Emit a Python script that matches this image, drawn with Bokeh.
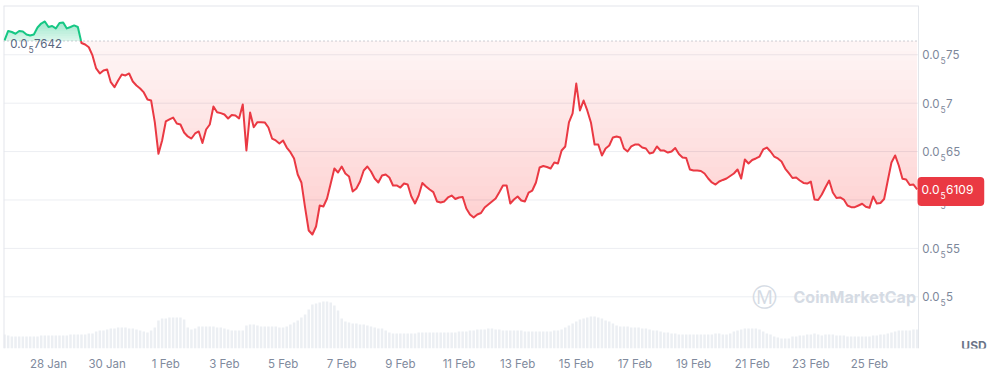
import numpy as np
import pandas as pd
from bokeh.plotting import figure
from bokeh.models import FixedTicker, Range1d, Label
from bokeh.core.properties import value
from bokeh.embed import file_html
from bokeh.resources import INLINE

# ---------------- data ----------------
START = "2024-01-26 12:00"
STEP_HOURS = 3
AXIS_ORIGIN = "2024-01-28"

# price in millionths of a USD (0.0_5 7642 = 7.642e-6)
price = [
    7.648, 7.746, 7.735, 7.717, 7.746, 7.741, 7.710, 7.699, 7.710, 7.782,
    7.823, 7.844, 7.787, 7.797, 7.772, 7.828, 7.834, 7.772, 7.787, 7.803,
    7.787, 7.622, 7.606, 7.578, 7.493, 7.359, 7.307, 7.338, 7.348, 7.217,
    7.165, 7.234, 7.296, 7.286, 7.307, 7.224, 7.183, 7.152, 7.111, 7.038,
    7.028, 6.804, 6.477, 6.615, 6.811, 6.832, 6.852, 6.790, 6.780, 6.697,
    6.656, 6.635, 6.687, 6.708, 6.589, 6.728, 6.780, 6.966, 6.907, 6.897,
    6.883, 6.842, 6.878, 6.873, 6.842, 6.987, 6.511, 6.904, 6.752, 6.804,
    6.804, 6.801, 6.749, 6.635, 6.615, 6.584, 6.615, 6.542, 6.494, 6.429,
    6.263, 6.181, 5.923, 5.685, 5.644, 5.726, 5.943, 5.933, 6.015, 6.170,
    6.325, 6.284, 6.346, 6.274, 6.243, 6.088, 6.119, 6.191, 6.305, 6.346,
    6.294, 6.222, 6.181, 6.253, 6.263, 6.232, 6.150, 6.150, 6.129, 6.170,
    6.160, 6.036, 5.964, 6.046, 6.176, 6.139, 6.108, 6.082, 5.985, 5.974,
    5.985, 6.026, 6.046, 6.010, 6.026, 6.031, 5.912, 5.850, 5.819, 5.850,
    5.866, 5.923, 5.954, 5.985, 6.015, 6.080, 6.150, 6.150, 5.964, 6.005,
    6.036, 5.995, 5.985, 6.077, 6.098, 6.181, 6.336, 6.351, 6.341, 6.325,
    6.387, 6.377, 6.511, 6.553, 6.801, 6.894, 7.203, 6.925, 7.028, 6.925,
    6.801, 6.573, 6.573, 6.460, 6.532, 6.563, 6.646, 6.656, 6.646, 6.532,
    6.501, 6.553, 6.573, 6.573, 6.542, 6.532, 6.480, 6.490, 6.553, 6.511,
    6.511, 6.490, 6.501, 6.537, 6.475, 6.439, 6.434, 6.315, 6.305, 6.305,
    6.300, 6.274, 6.222, 6.181, 6.160, 6.191, 6.207, 6.222, 6.248, 6.274,
    6.315, 6.222, 6.418, 6.377, 6.413, 6.429, 6.449, 6.522, 6.542, 6.501,
    6.449, 6.429, 6.398, 6.325, 6.277, 6.227, 6.232, 6.201, 6.176, 6.170,
    6.191, 6.005, 6.000, 6.057, 6.132, 6.201, 6.077, 6.021, 6.026, 6.005,
    5.943, 5.926, 5.926, 5.943, 5.961, 5.930, 5.919, 6.036, 5.964, 5.969,
    6.010, 6.201, 6.387, 6.460, 6.356, 6.219, 6.212, 6.155, 6.160, 6.109,
]

# trading volume (millions USD, per 3 hours)
volume = [
    14, 13, 12, 12, 12, 12, 12, 12, 12, 12, 13, 13, 13, 13, 13, 13, 13, 13, 14, 14,
    14, 14, 14, 15, 15, 17, 18, 18, 19, 20, 20, 21, 21, 21, 20, 20, 19, 18, 17, 16,
    18, 21, 28, 30, 30, 31, 31, 31, 31, 29, 21, 19, 20, 22, 22, 22, 22, 22, 21, 21,
    20, 19, 18, 18, 18, 18, 23, 24, 24, 23, 22, 22, 22, 22, 22, 21, 21, 22, 24, 26,
    28, 31, 34, 39, 44, 45, 46, 47, 47, 46, 43, 38, 30, 27, 26, 25, 25, 24, 24, 23,
    22, 21, 20, 20, 18, 16, 15, 15, 15, 15, 15, 15, 15, 16, 16, 16, 16, 16, 16, 16,
    16, 16, 16, 16, 17, 17, 17, 18, 18, 19, 19, 19, 20, 20, 19, 19, 18, 18, 18, 18,
    18, 18, 17, 17, 17, 17, 17, 17, 17, 17, 18, 18, 19, 21, 23, 25, 27, 29, 30, 31,
    32, 32, 31, 30, 28, 27, 25, 23, 22, 22, 22, 21, 21, 21, 20, 20, 19, 18, 18, 17,
    16, 16, 15, 15, 14, 14, 14, 14, 14, 14, 14, 14, 14, 14, 15, 15, 14, 14, 15, 17,
    18, 19, 20, 20, 20, 20, 19, 17, 15, 14, 12, 11, 10, 10, 10, 12, 12, 13, 13, 14,
    14, 15, 14, 13, 14, 14, 14, 13, 13, 13, 12, 12, 12, 12, 12, 12, 12, 13, 13, 14,
    14, 15, 16, 17, 18, 18, 18, 18, 19, 19,
]

reference_price = 7.642
last_price = 6.109

ytick_values = [5.0, 5.5, 6.0, 6.5, 7.0, 7.5]
ytick_lead = ["0.0"] * 6
ytick_sub = ["5"] * 6
ytick_tail = ["5", "55", "6", "65", "7", "75"]

xtick_dates = ["2024-01-28", "2024-01-30", "2024-02-01", "2024-02-03", "2024-02-05",
               "2024-02-07", "2024-02-09", "2024-02-11", "2024-02-13", "2024-02-15",
               "2024-02-17", "2024-02-19", "2024-02-21", "2024-02-23", "2024-02-25"]
xtick_labels = ["28 Jan", "30 Jan", "1 Feb", "3 Feb", "5 Feb", "7 Feb", "9 Feb", "11 Feb",
                "13 Feb", "15 Feb", "17 Feb", "19 Feb", "21 Feb", "23 Feb", "25 Feb"]

# ---------------- derived ----------------
RED = "#EA3943"
GREEN = "#16C784"
GRID = "#eceef2"
FONT = "Inter"

origin = pd.Timestamp(AXIS_ORIGIN)
times = pd.date_range(START, periods=len(price), freq=f"{STEP_HOURS}h")
t = ((times - origin) / pd.Timedelta(days=1)).to_numpy(dtype=float)
pr = np.array(price, dtype=float)
vol = np.array(volume, dtype=float)
xticks = [int(round((pd.Timestamp(d) - origin) / pd.Timedelta(days=1))) for d in xtick_dates]

# ranges: plotting area runs x_start..x_plot_end, the rest of the frame holds the price scale
x_start, x_plot_end, x_end = -1.535, 29.673, 32.503
y_bot, y_top = 4.466, 8.009
FRAME_H = 343
px = (y_top - y_bot) / FRAME_H  # one screen pixel in price units

p = figure(frame_width=998, frame_height=FRAME_H, output_backend="svg", toolbar_location=None,
           x_range=Range1d(x_start, x_end), y_range=Range1d(y_bot, y_top),
           min_border_left=3, min_border_right=0, min_border_top=5, min_border_bottom=23)
p.background_fill_color = "white"
p.border_fill_color = "white"
p.outline_line_color = None
p.grid.visible = False
p.yaxis.visible = False

p.xaxis.ticker = FixedTicker(ticks=xticks)
p.xaxis.major_label_overrides = dict(zip(xticks, xtick_labels))
p.xaxis.axis_line_color = None
p.xaxis.major_tick_line_color = None
p.xaxis.minor_tick_line_color = None
p.xaxis.major_tick_out = 0
p.xaxis.major_tick_in = 0
p.xaxis.minor_tick_out = 0
p.xaxis.major_label_standoff = 8
p.xaxis.major_label_text_font = FONT
p.xaxis.major_label_text_font_size = "11.5px"
p.xaxis.major_label_text_color = "#808a9d"

# horizontal grid lines over the plotting area
n = len(ytick_values)
p.segment(x0=[x_start] * n, x1=[x_plot_end] * n, y0=ytick_values, y1=ytick_values,
          line_color=GRID, line_width=1)

# volume
p.extra_y_ranges = {"vol": Range1d(0, FRAME_H)}
p.vbar(x=t, top=vol, bottom=0, width=0.085, y_range_name="vol",
       fill_color="#eceff3", line_color=None)

# red gradient fill between price and reference (below)
for k in range(0, 23):
    hi = reference_price - 0.1 * k
    y1 = np.minimum(pr, hi)
    y2 = np.full_like(pr, hi)
    p.varea(x=t, y1=y1, y2=y2, fill_color=RED, fill_alpha=0.05 if k == 0 else 0.012)

# green gradient fill (above)
for k in range(0, 9):
    lo = reference_price + 0.025 * k
    y1 = np.full_like(pr, lo)
    y2 = np.maximum(pr, lo)
    p.varea(x=t, y1=y1, y2=y2, fill_color=GREEN, fill_alpha=0.16 if k == 0 else 0.045)

# borders of the plotting area (left, top, right)
p.segment(x0=[x_start, x_start, x_plot_end], y0=[y_bot, y_top, y_bot],
          x1=[x_start, x_plot_end, x_plot_end], y1=[y_top, y_top, y_top],
          line_color="#e3e6eb", line_width=[2, 2, 1])

# reference dotted line
p.segment(x0=[x_start], x1=[x_plot_end], y0=[reference_price], y1=[reference_price],
          line_color="#9aa1ad", line_width=1, line_dash="1 3")

# split line at crossings
X, Y = [t[0]], [pr[0]]
for i in range(1, len(pr)):
    a, b = pr[i - 1], pr[i]
    if (a - reference_price) * (b - reference_price) < 0:
        f = (reference_price - a) / (b - a)
        X.append(t[i - 1] + f * (t[i] - t[i - 1]))
        Y.append(reference_price)
    X.append(t[i]); Y.append(b)
X = np.array(X); Y = np.array(Y)
yg = np.where(Y >= reference_price - 1e-9, Y, np.nan)
yr = np.where(Y <= reference_price + 1e-9, Y, np.nan)
p.line(X, yr, line_color=RED, line_width=2, line_join="round")
p.line(X, yg, line_color=GREEN, line_width=2, line_join="round")

# price scale labels (glyph text: 0.0 + subscript zero count + digits)
common = dict(text_baseline="middle", text_font=value(FONT))
p.text(x=[x_plot_end] * n, y=ytick_values, text=ytick_lead, x_offset=21, text_align="right",
       text_font_size=value("11.5px"), text_color="#7d879a", **common)
p.text(x=[x_plot_end] * n, y=ytick_values, text=ytick_sub, x_offset=22, y_offset=6,
       text_align="left", text_font_size=value("8.5px"), text_color="#7d879a", **common)
p.text(x=[x_plot_end] * n, y=ytick_values, text=ytick_tail, x_offset=27.5, text_align="left",
       text_font_size=value("11.5px"), text_color="#7d879a", **common)


def sub_label(x, y, lead, sub, tail, color, dx, size="11.5px", sub_size="8.5px"):
    kw = dict(text_baseline="middle", text_font=FONT, text_color=color)
    p.add_layout(Label(x=x, y=y, x_offset=dx + 16, text=lead, text_align="right",
                       text_font_size=size, **kw))
    p.add_layout(Label(x=x, y=y - 6 * px, x_offset=dx + 17, text=sub, text_align="left",
                       text_font_size=sub_size, **kw))
    p.add_layout(Label(x=x, y=y, x_offset=dx + 22.5, text=tail, text_align="left",
                       text_font_size=size, **kw))


# reference label (translucent white box over the line)
p.add_layout(Label(x=x_start, y=reference_price - 2 * px, x_offset=3,
                   text="0.0\u20857642", text_font=FONT, text_font_size="12.5px",
                   text_alpha=0.0, text_baseline="middle",
                   background_fill_color="white", background_fill_alpha=0.75,
                   border_radius=4, padding=6))
sub_label(x_start, reference_price - 2 * px, "0.0", "5", "7642", "#58667e", 8)

# last price badge
p.add_layout(Label(x=x_plot_end, y=last_price - 2 * px, x_offset=-1,
                   text="0.0\u20856109", text_font=FONT, text_font_size="12.5px",
                   text_color=RED, text_baseline="middle",
                   background_fill_color=RED, background_fill_alpha=1.0,
                   border_radius=4, padding=7))
sub_label(x_plot_end, last_price, "0.0", "5", "6109", "white", 5, size="12px")

# watermark
p.add_layout(Label(x=24.42, y=4.993, text="\u24c2", text_font="DejaVu Sans",
                   text_font_size="25px", text_color="#d5dbe4", text_baseline="middle",
                   text_align="center"))
p.add_layout(Label(x=25.41, y=4.993, text="CoinMarketCap", text_font=FONT,
                   text_font_size="16px", text_font_style="bold", text_color="#d5dbe4",
                   text_baseline="middle"))

# currency label
p.add_layout(Label(x=x_plot_end, y=4.497, x_offset=55.5, text="USD", text_font=FONT,
                   text_font_size="12px", text_font_style="bold", text_color="#6b7588",
                   text_baseline="middle", text_align="center"))

open("out.html", "w").write(file_html(p, INLINE))
